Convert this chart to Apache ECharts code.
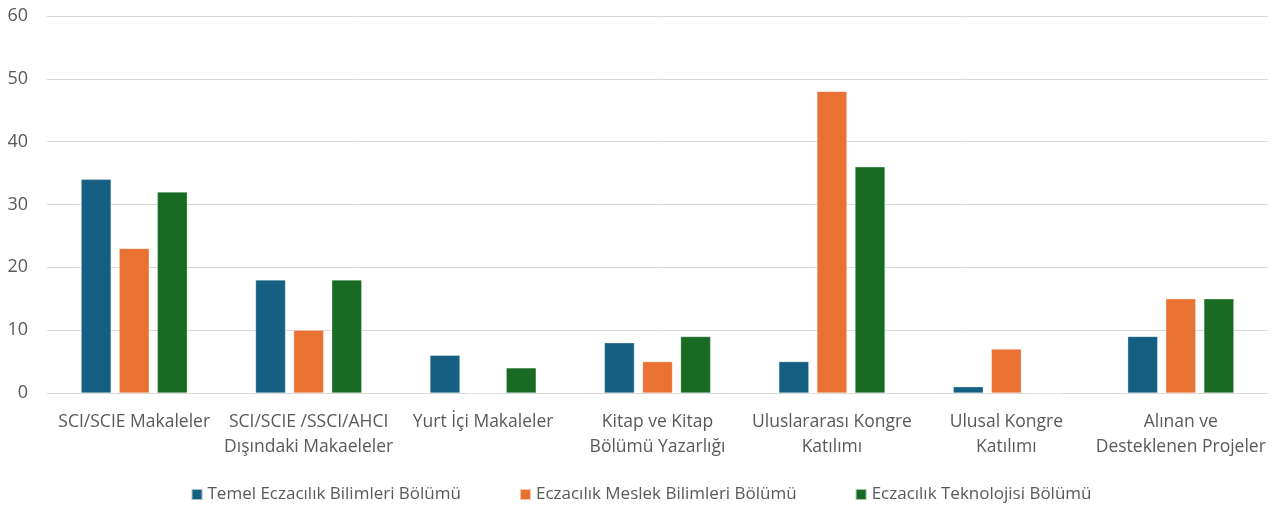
<!DOCTYPE html>
<html>
<head>
<meta charset="utf-8">
<script src="https://cdn.jsdelivr.net/npm/echarts@6/dist/echarts.min.js"></script>
<style>
  html, body { margin: 0; padding: 0; background: #fff; }
  #chart { width: 1282px; height: 510px; }
</style>
</head>
<body>
<div id="chart"></div>
<script>
const categories = [
  'SCI/SCIE Makaleler',
  'SCI/SCIE /SSCI/AHCI\nDışındaki Makaeleler',
  'Yurt İçi Makaleler',
  'Kitap ve Kitap\nBölümü Yazarlığı',
  'Uluslararası Kongre\nKatılımı',
  'Ulusal Kongre\nKatılımı',
  'Alınan ve\nDesteklenen Projeler'
]
const seriesNames = [
  'Temel Eczacılık Bilimleri Bölümü',
  'Eczacılık Meslek Bilimleri Bölümü',
  'Eczacılık Teknolojisi Bölümü'
]
const temel = [34, 18, 6, 8, 5, 1, 9]
const meslek = [23, 10, 0, 5, 48, 7, 15]
const teknoloji = [32, 18, 4, 9, 36, 0, 15]
const colors = ['#156082', '#e97132', '#196b24']

const textColor = '#595959'
const font = 'Open Sans'

const chart = echarts.init(document.getElementById('chart'))

const values = [temel, meslek, teknoloji]
const series = values.map((data, i) => ({
  name: seriesNames[i],
  type: 'bar',
  data: data,
  barWidth: 30,
  barGap: '27%',
  itemStyle: { color: colors[i], borderColor: 'rgba(255,255,255,0.6)', borderWidth: 0.5 }
}))

chart.setOption({
  animation: false,
  grid: { left: 47, right: 14, top: 16, bottom: 117 },
  legend: {
    bottom: 2,
    left: 'center',
    itemWidth: 11,
    itemHeight: 11,
    itemGap: 58,
    icon: 'rect',
    textStyle: { color: textColor, fontSize: 17, fontFamily: font },
    data: seriesNames
  },
  xAxis: {
    type: 'category',
    data: categories,
    axisTick: { show: false },
    axisLine: { lineStyle: { color: '#d9d9d9', width: 1 } },
    axisLabel: {
      color: textColor,
      fontSize: 17.5,
      fontFamily: font,
      margin: 17,
      lineHeight: 25,
      interval: 0
    }
  },
  yAxis: {
    type: 'value',
    min: 0,
    max: 60,
    interval: 10,
    axisLine: { show: false },
    axisTick: { show: false },
    splitLine: { lineStyle: { color: '#d9d9d9', width: 1 } },
    axisLabel: { color: textColor, fontSize: 18, fontFamily: font, margin: 19 }
  },
  series: series
})
</script>
</body>
</html>
